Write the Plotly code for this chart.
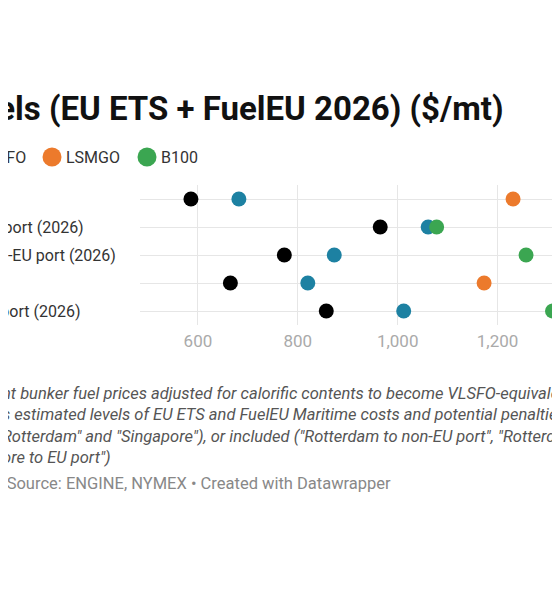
import plotly.graph_objects as go

rows = ["Rotterdam", "Rotterdam to EU port (2026)", "Rotterdam to non-EU port (2026)",
        "Singapore", "Singapore to EU port (2026)"]
hsfo = [586, 965, 773, 665, 857]
vlsfo = [682, 1061, 873, 820, 1012]
lsmgo = [1231, 1500, 1450, 1173, 1348]
b100 = [1450, 1078, 1257, 1400, 1310]
series = [("HSFO", hsfo, "#000000"), ("VLSFO", vlsfo, "#1d81a2"),
          ("LSMGO", lsmgo, "#ec7a2c"), ("B100", b100, "#3ba651")]
ticks = [600, 800, 1000, 1200, 1400]

# page body has an 8px margin, so work in reference pixels minus 8
OFF = 8
W, H = 560, 600
L, R, T, B = 140 - OFF, 0, 185 - OFF, 275 + OFF
pw, ph = W - L - R, H - T - B


def px(x):
    return (x - OFF - L) / pw


def py(y):
    return (H - B - (y - OFF)) / ph


fig = go.Figure()
ypos = list(range(len(rows)))
for name, vals, col in series:
    fig.add_trace(go.Scatter(x=vals, y=ypos, mode="markers", name=name,
                             marker=dict(size=15, color=col, line=dict(width=0)),
                             showlegend=False, cliponaxis=False))

# row labels (left part is cut off in the reference view)
label_right = [0, 86, 118, 0, 83]
for i, lab in enumerate(rows):
    if label_right[i]:
        fig.add_annotation(text=lab, x=px(label_right[i]), y=i, xref="paper", yref="y",
                           xanchor="right", yanchor="middle", showarrow=False,
                           font=dict(size=16, color="#333"))

font = "Roboto, Arial, sans-serif"
fig.add_annotation(text="<b>Price of bunker fuels (EU ETS + FuelEU 2026) ($/mt)</b>",
                   x=px(506), y=py(108), xref="paper", yref="paper", xanchor="right",
                   yanchor="middle", showarrow=False, font=dict(size=33, color="#111"))

# legend
legend_items = [("VLSFO", 28), ("LSMGO", 122), ("B100", 200)]
for name, right in legend_items:
    fig.add_annotation(text=name, x=px(right), y=py(157), xref="paper", yref="paper",
                       xanchor="right", yanchor="middle", showarrow=False,
                       font=dict(size=16, color="#333"))
for cx, col in [(52, "#ec7a2c"), (147, "#3ba651")]:
    fig.add_shape(type="circle", xref="paper", yref="paper",
                  x0=px(cx - 9.5), x1=px(cx + 9.5), y0=py(166.5), y1=py(147.5),
                  fillcolor=col, line=dict(width=0))

notes = ["nt bunker fuel prices adjusted for calorific contents to become VLSFO-equivalent",
         "s estimated levels of EU ETS and FuelEU Maritime costs and potential penalties",
         "Rotterdam\" and \"Singapore\"), or included (\"Rotterdam to non-EU port\", \"Rotterdam to EU port\"",
         "ore to EU port\")"]
for k, line in enumerate(notes):
    fig.add_annotation(text="<i>" + line + "</i>", x=px(0), y=py(393 + k * 21.5),
                       xref="paper", yref="paper", xanchor="left", yanchor="middle",
                       showarrow=False, font=dict(size=16.5, color="#555"))
fig.add_annotation(text="• Source: ENGINE, NYMEX • Created with Datawrapper",
                   x=px(-5), y=py(483), xref="paper", yref="paper", xanchor="left",
                   yanchor="middle", showarrow=False, font=dict(size=16.5, color="#888"))

fig.update_layout(
    width=W, height=H, margin=dict(l=L, r=R, t=T, b=B),
    plot_bgcolor="white", paper_bgcolor="white", font=dict(family=font),
    xaxis=dict(range=[484, 1341], tickvals=ticks, tickformat=",", showline=False,
               gridcolor="#e6e6e6", zeroline=False, tickfont=dict(size=17, color="#aaa"),
               ticks="", ticklabelstandoff=4),
    yaxis=dict(range=[4.5, -0.5], tickvals=ypos, showticklabels=False,
               gridcolor="#e6e6e6", zeroline=False),
)
fig.write_html("out.html")
